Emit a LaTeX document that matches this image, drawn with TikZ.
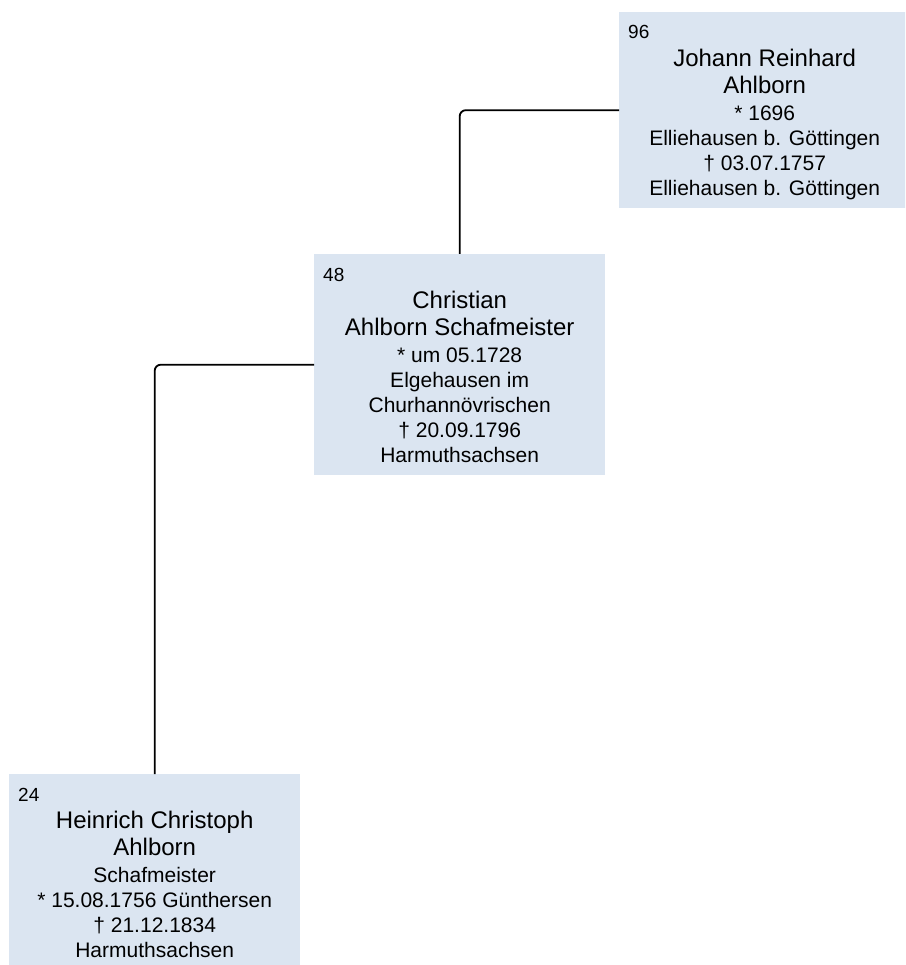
\documentclass[tikz,border=0pt]{standalone}
\usepackage{fontspec}
\setmainfont{Liberation Sans}
\usepackage{tikz}
\definecolor{cardblue}{RGB}{219,229,241}
\newcommand{\namesize}{\fontsize{24}{27}\selectfont}

\begin{document}
\begin{tikzpicture}[x=1pt, y=-1pt,
    card/.style={fill=cardblue, draw=none, anchor=north west, minimum width=291pt, inner sep=0pt},
    num/.style={anchor=base west, inner sep=0pt, font=\fontsize{19}{22}\selectfont},
    info/.style={anchor=north, align=center, inner sep=0pt, font=\fontsize{21}{25}\selectfont},
    link/.style={draw=black, line width=1.8pt, rounded corners=6pt}]
   \clip (0,0) rectangle (905,965);

   % boxes
   \node[card, minimum height=196pt] (p96) at (619,12) {};
   \node[card, minimum height=221pt] (p48) at (314,254) {};
   \node[card, minimum height=196pt] (p24) at (9,774) {};

   % numbers
   \node[num] (n96) at ([xshift=9pt,yshift=-27pt]p96.north west) {96};
   \node[num] (n48) at ([xshift=9pt,yshift=-27pt]p48.north west) {48};
   \node[num] (n24) at ([xshift=9pt,yshift=-27pt]p24.north west) {24};

   % texts
   \node[info] (t96) at ([yshift=-37pt]p96.north) {{\namesize Johann Reinhard}\\[2pt]{\namesize Ahlborn}\\[2pt]* 1696\\Elliehausen b. Göttingen\\† 03.07.1757\\Elliehausen b. Göttingen};
   \node[info] (t48) at ([yshift=-37pt]p48.north) {{\namesize Christian}\\[2pt]{\namesize Ahlborn Schafmeister}\\[2pt]* um 05.1728\\Elgehausen im\\Churhannövrischen\\† 20.09.1796\\Harmuthsachsen};
   \node[info] (t24) at ([yshift=-37pt]p24.north) {{\namesize Heinrich Christoph}\\[2pt]{\namesize Ahlborn}\\[2pt]Schafmeister\\* 15.08.1756 Günthersen\\† 21.12.1834\\Harmuthsachsen};

   \draw[link] (p48.north) |- (p96.west);
   \draw[link] (p24.north) |- (p48.west);
\end{tikzpicture}
\end{document}
